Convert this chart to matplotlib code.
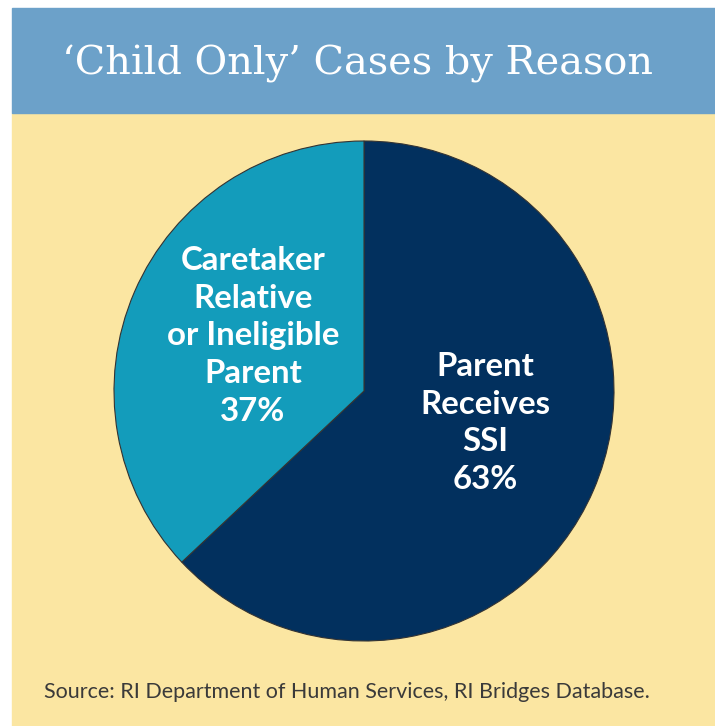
import matplotlib.pyplot as plt
from matplotlib.patches import Rectangle

labels = ["Parent\nReceives\nSSI", "Caretaker\nRelative\nor Ineligible\nParent"]
shares = [63, 37]
colors = ["#02305e", "#139cbb"]

W, H = 715, 726
fig = plt.figure(figsize=(W / 100, H / 100), dpi=100)
fig.patch.set_facecolor("white")

# background panels (pixel coords, top-down)
def px_rect(x0, y0, x1, y1, color):
    fig.patches.append(Rectangle((x0 / W, 1 - y1 / H), (x1 - x0) / W, (y1 - y0) / H,
                                 transform=fig.transFigure, color=color, zorder=-5))

px_rect(12, 113, W, H, "#fbe6a2")
px_rect(12, 8, W, 113, "#6ca1c9")

fig.text(357 / W, 1 - 64 / H, "\u2018Child Only\u2019 Cases by Reason", color="white",
         fontsize=28.7, family="DejaVu Serif", ha="center", va="center")

# pie axes: centre (364, 391), radius 250 px
cx, cy, r = 364, 391, 250
ax = fig.add_axes([(cx - r) / W, 1 - (cy + r) / H, 2 * r / W, 2 * r / H], zorder=2)
ax.set_facecolor("none")
wedges, _ = ax.pie(shares, colors=colors, startangle=90, counterclock=False,
                   radius=1, wedgeprops=dict(edgecolor="#333333", linewidth=0.8))
ax.set_xlim(-1, 1)
ax.set_ylim(-1, 1)
ax.set_aspect("equal")
ax.axis("off")

txt = dict(color="white", fontsize=23.8, family="Lato", fontweight="bold",
           ha="center", va="center", linespacing=1.37)
ax.text(121 / r, -32 / r, labels[0] + f"\n{shares[0]}%", **txt)
ax.text(-111 / r, 55 / r, labels[1] + f"\n{shares[1]}%", **txt)

fig.text(44 / W, 1 - 692 / H, "Source: RI Department of Human Services, RI Bridges Database.",
         color="#3a3a3a", fontsize=15.5, family="Lato", ha="left", va="center")

fig.savefig("out.png", dpi=100)
